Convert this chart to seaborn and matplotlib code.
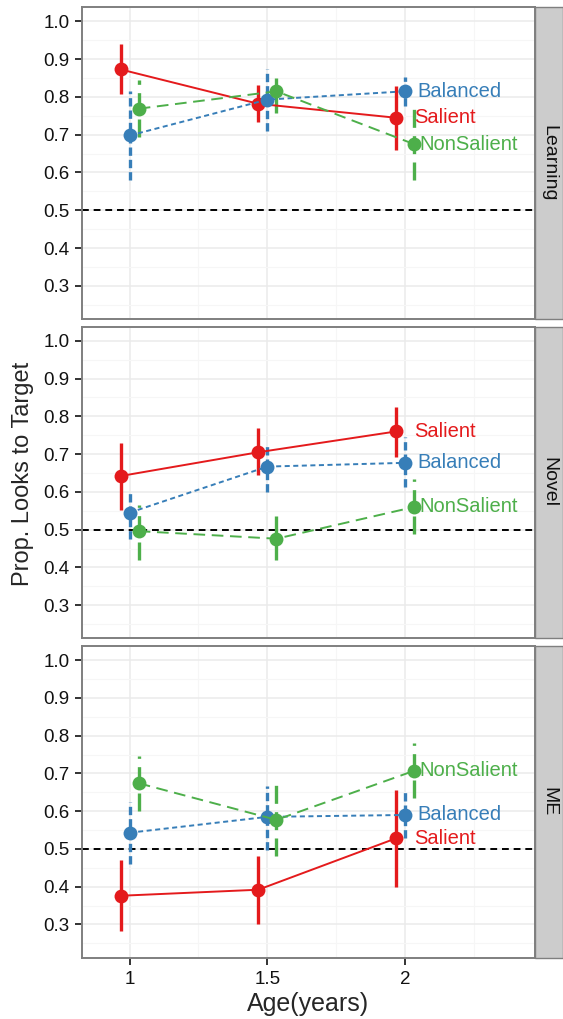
import numpy as np
import pandas as pd
import matplotlib
matplotlib.use("Agg")
import matplotlib.pyplot as plt
from matplotlib.patches import Rectangle
import seaborn as sns

sns.set_theme(style="whitegrid")
plt.rcParams["font.family"] = ["Liberation Sans", "DejaVu Sans"]

# data
ages = [1, 1.5, 2]
tasks = ["Learning", "Novel", "ME"]
conditions = ["Salient", "Balanced", "NonSalient"]

salient_mean = [[0.873, 0.782, 0.745], [0.642, 0.705, 0.760], [0.376, 0.392, 0.528]]
salient_lo = [[0.807, 0.734, 0.660], [0.553, 0.644, 0.692], [0.284, 0.302, 0.399]]
salient_hi = [[0.939, 0.832, 0.829], [0.730, 0.769, 0.824], [0.471, 0.480, 0.656]]

balanced_mean = [[0.698, 0.793, 0.815], [0.545, 0.667, 0.677], [0.543, 0.585, 0.590]]
balanced_lo = [[0.579, 0.710, 0.777], [0.476, 0.600, 0.613], [0.460, 0.497, 0.528]]
balanced_hi = [[0.817, 0.873, 0.853], [0.606, 0.730, 0.745], [0.625, 0.667, 0.652]]

nonsalient_mean = [[0.769, 0.815, 0.675], [0.496, 0.476, 0.560], [0.674, 0.577, 0.707]]
nonsalient_lo = [[0.694, 0.758, 0.581], [0.419, 0.419, 0.489], [0.601, 0.480, 0.636]]
nonsalient_hi = [[0.844, 0.851, 0.772], [0.566, 0.535, 0.633], [0.747, 0.674, 0.780]]

palette = {"Salient": "#E41A1C", "Balanced": "#377EB8", "NonSalient": "#4DAF4A"}
dodge = {"Salient": -0.033, "Balanced": 0.0, "NonSalient": 0.033}
line_dashes = {"Salient": "", "Balanced": (2.6, 1.8), "NonSalient": (6, 3.4)}
err_dashes = {"Salient": "solid", "Balanced": (0, (2.5, 1.2)), "NonSalient": (0, (5.4, 2.5))}
label_nudge = {"Salient": 0.066, "Balanced": 0.044, "NonSalient": 0.019}

rows = []
series = {"Salient": (salient_mean, salient_lo, salient_hi),
          "Balanced": (balanced_mean, balanced_lo, balanced_hi),
          "NonSalient": (nonsalient_mean, nonsalient_lo, nonsalient_hi)}
for ti, task in enumerate(tasks):
    for cond in conditions:
        m, lo, hi = series[cond]
        for ai, age in enumerate(ages):
            rows.append({"task": task, "cond": cond, "age": age,
                         "x": age + dodge[cond],
                         "mean": m[ti][ai], "lo": lo[ti][ai], "hi": hi[ti][ai]})
df = pd.DataFrame(rows)

W, H = 563, 1019
fig = plt.figure(figsize=(W / 100, H / 100), dpi=100)
fig.patch.set_facecolor("white")

left, right = 82, 535
tops = [7.3, 326.7, 646]
ph = 311.5

for i, task in enumerate(tasks):
    ax = fig.add_axes([left / W, 1 - (tops[i] + ph) / H, (right - left) / W, ph / H])
    d = df[df["task"] == task]

    ax.axhline(0.5, color="black", lw=1.4, ls=(0, (3.5, 2.5)), zorder=1.5)

    for cond in conditions:
        dc = d[d["cond"] == cond]
        for _, r in dc.iterrows():
            ax.plot([r["x"], r["x"]], [r["lo"], r["hi"]], color=palette[cond],
                    lw=2.4, ls=err_dashes[cond], solid_capstyle="butt",
                    dash_capstyle="butt", zorder=2)

    sns.lineplot(data=d, x="x", y="mean", hue="cond", style="cond",
                 hue_order=conditions, style_order=conditions,
                 palette=palette, dashes=line_dashes,
                 markers={c: "o" for c in conditions}, markersize=10,
                 markeredgewidth=0, linewidth=1.4, errorbar=None,
                 legend=False, ax=ax, zorder=3)

    for cond in conditions:
        last = d[(d["cond"] == cond) & (d["age"] == ages[-1])].iloc[0]
        ax.text(last["x"] + label_nudge[cond], last["mean"], cond,
                color=palette[cond], fontsize=14.5, va="center", ha="left", zorder=4)

    ax.set_xlim(0.827, 2.472)
    ax.set_ylim(0.2125, 1.0375)
    ax.set_xticks(ages)
    ax.set_xticks([1.25, 1.75, 2.25], minor=True)
    yt = np.round(np.arange(0.3, 1.01, 0.1), 1)
    ax.set_yticks(yt)
    ax.set_yticklabels([f"{v:.1f}" for v in yt])
    ax.set_yticks(np.round(np.arange(0.25, 1.0, 0.1), 2), minor=True)
    ax.grid(which="major", color="#EBEBEB", lw=1.1)
    ax.grid(which="minor", color="#F6F6F6", lw=0.8)
    ax.set_axisbelow(True)
    ax.set_facecolor("white")
    ax.set_xlabel("")
    ax.set_ylabel("")
    for sp in ax.spines.values():
        sp.set_color("#7F7F7F")
        sp.set_linewidth(1.4)
    ax.tick_params(axis="y", which="major", left=True, length=5, width=1.4,
                   color="#333333", labelsize=13.5, labelcolor="#111111", pad=4)
    ax.tick_params(which="minor", length=0)
    if i == len(tasks) - 1:
        ax.set_xticklabels(["1", "1.5", "2"])
        ax.tick_params(axis="x", which="major", bottom=True, length=5, width=1.4,
                       color="#333333", labelsize=13.5, labelcolor="#111111", pad=5)
    else:
        ax.tick_params(axis="x", which="major", bottom=False, labelbottom=False)

    # facet strip on the right
    y0 = 1 - (tops[i] + ph) / H
    fig.patches.append(Rectangle((right / W, y0), (W - right) / W, ph / H,
                                 transform=fig.transFigure, facecolor="#CCCCCC",
                                 edgecolor="#7F7F7F", lw=1.0, zorder=0))
    fig.text((right + 14) / W, y0 + ph / (2 * H), task, rotation=270,
             ha="center", va="center", fontsize=14, color="#111111")

fig.text(23 / W, 1 - 474 / H, "Prop. Looks to Target", rotation=90,
         ha="center", va="center", fontsize=17)
fig.text(308.5 / W, 1 - 1004 / H, "Age(years)", ha="center", va="center", fontsize=18)

fig.savefig("out.png", dpi=100, facecolor="white")
